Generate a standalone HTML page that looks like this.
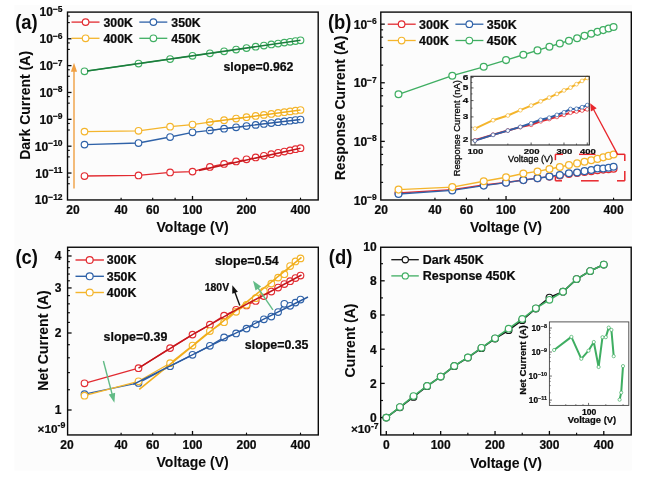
<!DOCTYPE html>
<html><head><meta charset="utf-8"><title>Figure</title>
<style>
html,body{margin:0;padding:0;background:#fff;}
body{width:647px;height:478px;overflow:hidden;font-family:"Liberation Sans",sans-serif;}
svg{display:block;font-family:"Liberation Sans",sans-serif;filter:blur(0.35px);}
text{stroke:#0a0a0a;stroke-width:0.22px;paint-order:stroke;}
text.n{stroke-width:0.3px;}
text.t{stroke-width:0.08px;}
</style></head><body>
<svg width="647" height="478" viewBox="0 0 647 478">
<rect x="0" y="0" width="647" height="478" fill="#ffffff"/>
<rect x="14.5" y="5" width="617.3" height="465.6" fill="#fcfcfc"/>
<text x="62.6" y="204.45" font-size="12" font-weight="bold" text-anchor="end" fill="#0a0a0a">10<tspan font-size="8.5" dy="-4.6">−12</tspan></text>
<line x1="67.5" y1="183.73" x2="69.8" y2="183.73" stroke="#0a0a0a" stroke-width="1.15" />
<line x1="67.5" y1="177.2" x2="69.8" y2="177.2" stroke="#0a0a0a" stroke-width="1.15" />
<line x1="67.5" y1="173.04" x2="71.5" y2="173.04" stroke="#0a0a0a" stroke-width="1.3" />
<text x="62.6" y="177.59" font-size="12" font-weight="bold" text-anchor="end" fill="#0a0a0a">10<tspan font-size="8.5" dy="-4.6">−11</tspan></text>
<line x1="67.5" y1="156.87" x2="69.8" y2="156.87" stroke="#0a0a0a" stroke-width="1.15" />
<line x1="67.5" y1="150.35" x2="69.8" y2="150.35" stroke="#0a0a0a" stroke-width="1.15" />
<line x1="67.5" y1="146.19" x2="71.5" y2="146.19" stroke="#0a0a0a" stroke-width="1.3" />
<text x="62.6" y="150.74" font-size="12" font-weight="bold" text-anchor="end" fill="#0a0a0a">10<tspan font-size="8.5" dy="-4.6">−10</tspan></text>
<line x1="67.5" y1="130.02" x2="69.8" y2="130.02" stroke="#0a0a0a" stroke-width="1.15" />
<line x1="67.5" y1="123.49" x2="69.8" y2="123.49" stroke="#0a0a0a" stroke-width="1.15" />
<line x1="67.5" y1="119.33" x2="71.5" y2="119.33" stroke="#0a0a0a" stroke-width="1.3" />
<text x="62.6" y="123.88" font-size="12" font-weight="bold" text-anchor="end" fill="#0a0a0a">10<tspan font-size="8.5" dy="-4.6">−9</tspan></text>
<line x1="67.5" y1="103.16" x2="69.8" y2="103.16" stroke="#0a0a0a" stroke-width="1.15" />
<line x1="67.5" y1="96.63" x2="69.8" y2="96.63" stroke="#0a0a0a" stroke-width="1.15" />
<line x1="67.5" y1="92.47" x2="71.5" y2="92.47" stroke="#0a0a0a" stroke-width="1.3" />
<text x="62.6" y="97.02" font-size="12" font-weight="bold" text-anchor="end" fill="#0a0a0a">10<tspan font-size="8.5" dy="-4.6">−8</tspan></text>
<line x1="67.5" y1="76.3" x2="69.8" y2="76.3" stroke="#0a0a0a" stroke-width="1.15" />
<line x1="67.5" y1="69.77" x2="69.8" y2="69.77" stroke="#0a0a0a" stroke-width="1.15" />
<line x1="67.5" y1="65.61" x2="71.5" y2="65.61" stroke="#0a0a0a" stroke-width="1.3" />
<text x="62.6" y="70.16" font-size="12" font-weight="bold" text-anchor="end" fill="#0a0a0a">10<tspan font-size="8.5" dy="-4.6">−7</tspan></text>
<line x1="67.5" y1="49.44" x2="69.8" y2="49.44" stroke="#0a0a0a" stroke-width="1.15" />
<line x1="67.5" y1="42.92" x2="69.8" y2="42.92" stroke="#0a0a0a" stroke-width="1.15" />
<line x1="67.5" y1="38.76" x2="71.5" y2="38.76" stroke="#0a0a0a" stroke-width="1.3" />
<text x="62.6" y="43.31" font-size="12" font-weight="bold" text-anchor="end" fill="#0a0a0a">10<tspan font-size="8.5" dy="-4.6">−6</tspan></text>
<line x1="67.5" y1="22.59" x2="69.8" y2="22.59" stroke="#0a0a0a" stroke-width="1.15" />
<line x1="67.5" y1="16.06" x2="69.8" y2="16.06" stroke="#0a0a0a" stroke-width="1.15" />
<text x="62.6" y="16.45" font-size="12" font-weight="bold" text-anchor="end" fill="#0a0a0a">10<tspan font-size="8.5" dy="-4.6">−5</tspan></text>
<line x1="121.11" y1="199.95" x2="121.11" y2="197.65" stroke="#0a0a0a" stroke-width="1.15" />
<line x1="152.7" y1="199.95" x2="152.7" y2="197.65" stroke="#0a0a0a" stroke-width="1.15" />
<line x1="175.11" y1="199.95" x2="175.11" y2="197.65" stroke="#0a0a0a" stroke-width="1.15" />
<line x1="246.5" y1="199.95" x2="246.5" y2="197.65" stroke="#0a0a0a" stroke-width="1.15" />
<line x1="300.51" y1="199.95" x2="300.51" y2="197.65" stroke="#0a0a0a" stroke-width="1.15" />
<line x1="192.5" y1="199.95" x2="192.5" y2="195.95" stroke="#0a0a0a" stroke-width="1.3" />
<text x="121.11" y="214.3" font-size="12" font-weight="bold" text-anchor="middle" fill="#0a0a0a" >40</text>
<text x="152.7" y="214.3" font-size="12" font-weight="bold" text-anchor="middle" fill="#0a0a0a" >60</text>
<text x="192.5" y="214.3" font-size="12" font-weight="bold" text-anchor="middle" fill="#0a0a0a" >100</text>
<text x="246.5" y="214.3" font-size="12" font-weight="bold" text-anchor="middle" fill="#0a0a0a" >200</text>
<text x="300.51" y="214.3" font-size="12" font-weight="bold" text-anchor="middle" fill="#0a0a0a" >400</text>
<text x="73" y="214.3" font-size="12" font-weight="bold" text-anchor="middle" fill="#0a0a0a" >20</text>
<text class="t" x="192.6" y="232.4" font-size="14" font-weight="bold" text-anchor="middle" fill="#0a0a0a" >Voltage (V)</text>
<text class="t" transform="translate(29.6,105.4) rotate(-90)" font-size="14" font-weight="bold" text-anchor="middle" fill="#0a0a0a">Dark Current (A)</text>
<text transform="translate(15.2,28.8) scale(0.95,1)" font-size="19.4" font-weight="bold" fill="#0a0a0a" style="stroke:none">(a)</text>
<line x1="74" y1="188.5" x2="74" y2="70.8" stroke="#f0a043" stroke-width="1.4" />
<polygon points="74,62.8 77.1,71.8 70.9,71.8" fill="#f0a043"/>
<polyline points="84.49,176 138.5,175.4 170.09,172.4 192.5,171.6 209.89,166.9 224.09,163.97 236.1,161.49 246.5,159.34 255.68,157.45 263.89,155.76 271.32,154.22 278.1,152.83 284.33,151.54 290.11,150.35 295.48,149.24 300.51,148.2" fill="none" stroke="#e22b31" stroke-width="1.3" stroke-linejoin="round" />
<circle cx="84.49" cy="176" r="3.3" fill="#fff" stroke="#e22b31" stroke-width="1.15"/>
<circle cx="138.5" cy="175.4" r="3.3" fill="#fff" stroke="#e22b31" stroke-width="1.15"/>
<circle cx="170.09" cy="172.4" r="3.3" fill="#fff" stroke="#e22b31" stroke-width="1.15"/>
<circle cx="192.5" cy="171.6" r="3.3" fill="#fff" stroke="#e22b31" stroke-width="1.15"/>
<circle cx="209.89" cy="166.9" r="3.3" fill="#fff" stroke="#e22b31" stroke-width="1.15"/>
<circle cx="224.09" cy="163.97" r="3.3" fill="#fff" stroke="#e22b31" stroke-width="1.15"/>
<circle cx="236.1" cy="161.49" r="3.3" fill="#fff" stroke="#e22b31" stroke-width="1.15"/>
<circle cx="246.5" cy="159.34" r="3.3" fill="#fff" stroke="#e22b31" stroke-width="1.15"/>
<circle cx="255.68" cy="157.45" r="3.3" fill="#fff" stroke="#e22b31" stroke-width="1.15"/>
<circle cx="263.89" cy="155.76" r="3.3" fill="#fff" stroke="#e22b31" stroke-width="1.15"/>
<circle cx="271.32" cy="154.22" r="3.3" fill="#fff" stroke="#e22b31" stroke-width="1.15"/>
<circle cx="278.1" cy="152.83" r="3.3" fill="#fff" stroke="#e22b31" stroke-width="1.15"/>
<circle cx="284.33" cy="151.54" r="3.3" fill="#fff" stroke="#e22b31" stroke-width="1.15"/>
<circle cx="290.11" cy="150.35" r="3.3" fill="#fff" stroke="#e22b31" stroke-width="1.15"/>
<circle cx="295.48" cy="149.24" r="3.3" fill="#fff" stroke="#e22b31" stroke-width="1.15"/>
<circle cx="300.51" cy="148.2" r="3.3" fill="#fff" stroke="#e22b31" stroke-width="1.15"/>
<polyline points="84.49,144.6 138.5,143 170.09,137 192.5,132.3 209.89,130.4 224.09,128.69 236.1,127.25 246.5,126 255.68,124.89 263.89,123.9 271.32,123.01 278.1,122.2 284.33,121.45 290.11,120.75 295.48,120.1 300.51,119.5" fill="none" stroke="#2f62a8" stroke-width="1.3" stroke-linejoin="round" />
<circle cx="84.49" cy="144.6" r="3.3" fill="#fff" stroke="#2f62a8" stroke-width="1.15"/>
<circle cx="138.5" cy="143" r="3.3" fill="#fff" stroke="#2f62a8" stroke-width="1.15"/>
<circle cx="170.09" cy="137" r="3.3" fill="#fff" stroke="#2f62a8" stroke-width="1.15"/>
<circle cx="192.5" cy="132.3" r="3.3" fill="#fff" stroke="#2f62a8" stroke-width="1.15"/>
<circle cx="209.89" cy="130.4" r="3.3" fill="#fff" stroke="#2f62a8" stroke-width="1.15"/>
<circle cx="224.09" cy="128.69" r="3.3" fill="#fff" stroke="#2f62a8" stroke-width="1.15"/>
<circle cx="236.1" cy="127.25" r="3.3" fill="#fff" stroke="#2f62a8" stroke-width="1.15"/>
<circle cx="246.5" cy="126" r="3.3" fill="#fff" stroke="#2f62a8" stroke-width="1.15"/>
<circle cx="255.68" cy="124.89" r="3.3" fill="#fff" stroke="#2f62a8" stroke-width="1.15"/>
<circle cx="263.89" cy="123.9" r="3.3" fill="#fff" stroke="#2f62a8" stroke-width="1.15"/>
<circle cx="271.32" cy="123.01" r="3.3" fill="#fff" stroke="#2f62a8" stroke-width="1.15"/>
<circle cx="278.1" cy="122.2" r="3.3" fill="#fff" stroke="#2f62a8" stroke-width="1.15"/>
<circle cx="284.33" cy="121.45" r="3.3" fill="#fff" stroke="#2f62a8" stroke-width="1.15"/>
<circle cx="290.11" cy="120.75" r="3.3" fill="#fff" stroke="#2f62a8" stroke-width="1.15"/>
<circle cx="295.48" cy="120.1" r="3.3" fill="#fff" stroke="#2f62a8" stroke-width="1.15"/>
<circle cx="300.51" cy="119.5" r="3.3" fill="#fff" stroke="#2f62a8" stroke-width="1.15"/>
<polyline points="84.49,131.6 138.5,130.8 170.09,126.7 192.5,124.6 209.89,122.1 224.09,120.2 236.1,118.6 246.5,117.21 255.68,115.99 263.89,114.89 271.32,113.9 278.1,112.99 284.33,112.16 290.11,111.39 295.48,110.67 300.51,110" fill="none" stroke="#f4b52c" stroke-width="1.3" stroke-linejoin="round" />
<circle cx="84.49" cy="131.6" r="3.3" fill="#fff" stroke="#f4b52c" stroke-width="1.15"/>
<circle cx="138.5" cy="130.8" r="3.3" fill="#fff" stroke="#f4b52c" stroke-width="1.15"/>
<circle cx="170.09" cy="126.7" r="3.3" fill="#fff" stroke="#f4b52c" stroke-width="1.15"/>
<circle cx="192.5" cy="124.6" r="3.3" fill="#fff" stroke="#f4b52c" stroke-width="1.15"/>
<circle cx="209.89" cy="122.1" r="3.3" fill="#fff" stroke="#f4b52c" stroke-width="1.15"/>
<circle cx="224.09" cy="120.2" r="3.3" fill="#fff" stroke="#f4b52c" stroke-width="1.15"/>
<circle cx="236.1" cy="118.6" r="3.3" fill="#fff" stroke="#f4b52c" stroke-width="1.15"/>
<circle cx="246.5" cy="117.21" r="3.3" fill="#fff" stroke="#f4b52c" stroke-width="1.15"/>
<circle cx="255.68" cy="115.99" r="3.3" fill="#fff" stroke="#f4b52c" stroke-width="1.15"/>
<circle cx="263.89" cy="114.89" r="3.3" fill="#fff" stroke="#f4b52c" stroke-width="1.15"/>
<circle cx="271.32" cy="113.9" r="3.3" fill="#fff" stroke="#f4b52c" stroke-width="1.15"/>
<circle cx="278.1" cy="112.99" r="3.3" fill="#fff" stroke="#f4b52c" stroke-width="1.15"/>
<circle cx="284.33" cy="112.16" r="3.3" fill="#fff" stroke="#f4b52c" stroke-width="1.15"/>
<circle cx="290.11" cy="111.39" r="3.3" fill="#fff" stroke="#f4b52c" stroke-width="1.15"/>
<circle cx="295.48" cy="110.67" r="3.3" fill="#fff" stroke="#f4b52c" stroke-width="1.15"/>
<circle cx="300.51" cy="110" r="3.3" fill="#fff" stroke="#f4b52c" stroke-width="1.15"/>
<polyline points="84.49,71.3 138.5,63.55 170.09,59.02 192.5,55.8 209.89,53.31 224.09,51.27 236.1,49.54 246.5,48.05 255.68,46.73 263.89,45.56 271.32,44.49 278.1,43.52 284.33,42.62 290.11,41.79 295.48,41.02 300.51,40.3" fill="none" stroke="#3fae62" stroke-width="1.3" stroke-linejoin="round" />
<circle cx="84.49" cy="71.3" r="3.3" fill="#fff" stroke="#3fae62" stroke-width="1.15"/>
<circle cx="138.5" cy="63.55" r="3.3" fill="#fff" stroke="#3fae62" stroke-width="1.15"/>
<circle cx="170.09" cy="59.02" r="3.3" fill="#fff" stroke="#3fae62" stroke-width="1.15"/>
<circle cx="192.5" cy="55.8" r="3.3" fill="#fff" stroke="#3fae62" stroke-width="1.15"/>
<circle cx="209.89" cy="53.31" r="3.3" fill="#fff" stroke="#3fae62" stroke-width="1.15"/>
<circle cx="224.09" cy="51.27" r="3.3" fill="#fff" stroke="#3fae62" stroke-width="1.15"/>
<circle cx="236.1" cy="49.54" r="3.3" fill="#fff" stroke="#3fae62" stroke-width="1.15"/>
<circle cx="246.5" cy="48.05" r="3.3" fill="#fff" stroke="#3fae62" stroke-width="1.15"/>
<circle cx="255.68" cy="46.73" r="3.3" fill="#fff" stroke="#3fae62" stroke-width="1.15"/>
<circle cx="263.89" cy="45.56" r="3.3" fill="#fff" stroke="#3fae62" stroke-width="1.15"/>
<circle cx="271.32" cy="44.49" r="3.3" fill="#fff" stroke="#3fae62" stroke-width="1.15"/>
<circle cx="278.1" cy="43.52" r="3.3" fill="#fff" stroke="#3fae62" stroke-width="1.15"/>
<circle cx="284.33" cy="42.62" r="3.3" fill="#fff" stroke="#3fae62" stroke-width="1.15"/>
<circle cx="290.11" cy="41.79" r="3.3" fill="#fff" stroke="#3fae62" stroke-width="1.15"/>
<circle cx="295.48" cy="41.02" r="3.3" fill="#fff" stroke="#3fae62" stroke-width="1.15"/>
<circle cx="300.51" cy="40.3" r="3.3" fill="#fff" stroke="#3fae62" stroke-width="1.15"/>
<line x1="86.99" y1="70.95" x2="300.51" y2="40.3" stroke="#1b7d3c" stroke-width="1.6" />
<line x1="199" y1="170.4" x2="300.51" y2="148.2" stroke="#c4161c" stroke-width="1.6" />
<line x1="205.89" y1="122.6" x2="300.51" y2="110" stroke="#f0ad1a" stroke-width="1.5" />
<line x1="207.89" y1="130.6" x2="300.51" y2="119.5" stroke="#2a5aa0" stroke-width="1.4" />
<text x="223.4" y="70.8" font-size="12.3" font-weight="bold" text-anchor="start" fill="#0a0a0a" >slope=0.962</text>
<line x1="71.5" y1="22.1" x2="99.5" y2="22.1" stroke="#e22b31" stroke-width="1.3" />
<circle cx="85.6" cy="22.1" r="3.3" fill="#fff" stroke="#e22b31" stroke-width="1.15"/>
<text x="103.5" y="26.5" font-size="12.3" font-weight="bold" text-anchor="start" fill="#0a0a0a" >300K</text>
<line x1="139.3" y1="22.1" x2="167.3" y2="22.1" stroke="#2f62a8" stroke-width="1.3" />
<circle cx="153.4" cy="22.1" r="3.3" fill="#fff" stroke="#2f62a8" stroke-width="1.15"/>
<text x="171.3" y="26.5" font-size="12.3" font-weight="bold" text-anchor="start" fill="#0a0a0a" >350K</text>
<line x1="71.5" y1="38.3" x2="99.5" y2="38.3" stroke="#f4b52c" stroke-width="1.3" />
<circle cx="85.6" cy="38.3" r="3.3" fill="#fff" stroke="#f4b52c" stroke-width="1.15"/>
<text x="103.5" y="42.7" font-size="12.3" font-weight="bold" text-anchor="start" fill="#0a0a0a" >400K</text>
<line x1="139.3" y1="38.3" x2="167.3" y2="38.3" stroke="#3fae62" stroke-width="1.3" />
<circle cx="153.4" cy="38.3" r="3.3" fill="#fff" stroke="#3fae62" stroke-width="1.15"/>
<text x="171.3" y="42.7" font-size="12.3" font-weight="bold" text-anchor="start" fill="#0a0a0a" >450K</text>
<rect x="67.5" y="12.1" width="250.7" height="187.85" fill="none" stroke="#0a0a0a" stroke-width="1.4"/>
<line x1="380.8" y1="24.15" x2="384.8" y2="24.15" stroke="#0a0a0a" stroke-width="1.3" />
<text x="376.8" y="28.75" font-size="12" font-weight="bold" text-anchor="end" fill="#0a0a0a">10<tspan font-size="8.5" dy="-4.6">−6</tspan></text>
<line x1="380.8" y1="65.12" x2="383.1" y2="65.12" stroke="#0a0a0a" stroke-width="1.15" />
<line x1="380.8" y1="47.48" x2="383.1" y2="47.48" stroke="#0a0a0a" stroke-width="1.15" />
<line x1="380.8" y1="37.15" x2="383.1" y2="37.15" stroke="#0a0a0a" stroke-width="1.15" />
<line x1="380.8" y1="29.83" x2="383.1" y2="29.83" stroke="#0a0a0a" stroke-width="1.15" />
<line x1="380.8" y1="82.77" x2="384.8" y2="82.77" stroke="#0a0a0a" stroke-width="1.3" />
<text x="376.8" y="87.37" font-size="12" font-weight="bold" text-anchor="end" fill="#0a0a0a">10<tspan font-size="8.5" dy="-4.6">−7</tspan></text>
<line x1="380.8" y1="123.74" x2="383.1" y2="123.74" stroke="#0a0a0a" stroke-width="1.15" />
<line x1="380.8" y1="106.1" x2="383.1" y2="106.1" stroke="#0a0a0a" stroke-width="1.15" />
<line x1="380.8" y1="95.77" x2="383.1" y2="95.77" stroke="#0a0a0a" stroke-width="1.15" />
<line x1="380.8" y1="88.45" x2="383.1" y2="88.45" stroke="#0a0a0a" stroke-width="1.15" />
<line x1="380.8" y1="141.39" x2="384.8" y2="141.39" stroke="#0a0a0a" stroke-width="1.3" />
<text x="376.8" y="145.99" font-size="12" font-weight="bold" text-anchor="end" fill="#0a0a0a">10<tspan font-size="8.5" dy="-4.6">−8</tspan></text>
<line x1="380.8" y1="182.36" x2="383.1" y2="182.36" stroke="#0a0a0a" stroke-width="1.15" />
<line x1="380.8" y1="164.72" x2="383.1" y2="164.72" stroke="#0a0a0a" stroke-width="1.15" />
<line x1="380.8" y1="154.39" x2="383.1" y2="154.39" stroke="#0a0a0a" stroke-width="1.15" />
<line x1="380.8" y1="147.07" x2="383.1" y2="147.07" stroke="#0a0a0a" stroke-width="1.15" />
<text x="376.8" y="204.61" font-size="12" font-weight="bold" text-anchor="end" fill="#0a0a0a">10<tspan font-size="8.5" dy="-4.6">−9</tspan></text>
<line x1="434.96" y1="200" x2="434.96" y2="197.7" stroke="#0a0a0a" stroke-width="1.15" />
<line x1="466.41" y1="200" x2="466.41" y2="197.7" stroke="#0a0a0a" stroke-width="1.15" />
<line x1="488.73" y1="200" x2="488.73" y2="197.7" stroke="#0a0a0a" stroke-width="1.15" />
<line x1="559.8" y1="200" x2="559.8" y2="197.7" stroke="#0a0a0a" stroke-width="1.15" />
<line x1="613.56" y1="200" x2="613.56" y2="197.7" stroke="#0a0a0a" stroke-width="1.15" />
<line x1="506.04" y1="200" x2="506.04" y2="196" stroke="#0a0a0a" stroke-width="1.3" />
<text x="381.2" y="214.3" font-size="12" font-weight="bold" text-anchor="middle" fill="#0a0a0a" >20</text>
<text x="434.96" y="214.3" font-size="12" font-weight="bold" text-anchor="middle" fill="#0a0a0a" >40</text>
<text x="466.41" y="214.3" font-size="12" font-weight="bold" text-anchor="middle" fill="#0a0a0a" >60</text>
<text x="506.04" y="214.3" font-size="12" font-weight="bold" text-anchor="middle" fill="#0a0a0a" >100</text>
<text x="559.8" y="214.3" font-size="12" font-weight="bold" text-anchor="middle" fill="#0a0a0a" >200</text>
<text x="613.56" y="214.3" font-size="12" font-weight="bold" text-anchor="middle" fill="#0a0a0a" >400</text>
<text class="t" x="506" y="232.4" font-size="14" font-weight="bold" text-anchor="middle" fill="#0a0a0a" >Voltage (V)</text>
<text class="t" transform="translate(345.2,108) rotate(-90)" font-size="14" font-weight="bold" text-anchor="middle" fill="#0a0a0a">Response Current (A)</text>
<text transform="translate(327.9,28.8) scale(0.95,1)" font-size="19.4" font-weight="bold" fill="#0a0a0a" style="stroke:none">(b)</text>
<polyline points="398.51,193 452.27,189.6 483.72,185 506.04,182.54 523.34,180.03 537.49,178.14 549.44,176.62 559.8,175.58 568.94,174.01 577.11,172.98 584.5,172.04 591.25,171.14 597.46,170.16 603.21,169.62 608.56,169.17 613.56,168.63" fill="none" stroke="#e22b31" stroke-width="1.4" stroke-linejoin="round" />
<circle cx="398.51" cy="193" r="3.4" fill="#fff" stroke="#e22b31" stroke-width="1.25"/>
<circle cx="452.27" cy="189.6" r="3.4" fill="#fff" stroke="#e22b31" stroke-width="1.25"/>
<circle cx="483.72" cy="185" r="3.4" fill="#fff" stroke="#e22b31" stroke-width="1.25"/>
<circle cx="506.04" cy="182.54" r="3.4" fill="#fff" stroke="#e22b31" stroke-width="1.25"/>
<circle cx="523.34" cy="180.03" r="3.4" fill="#fff" stroke="#e22b31" stroke-width="1.25"/>
<circle cx="537.49" cy="178.14" r="3.4" fill="#fff" stroke="#e22b31" stroke-width="1.25"/>
<circle cx="549.44" cy="176.62" r="3.4" fill="#fff" stroke="#e22b31" stroke-width="1.25"/>
<circle cx="559.8" cy="175.58" r="3.4" fill="#fff" stroke="#e22b31" stroke-width="1.25"/>
<circle cx="568.94" cy="174.01" r="3.4" fill="#fff" stroke="#e22b31" stroke-width="1.25"/>
<circle cx="577.11" cy="172.98" r="3.4" fill="#fff" stroke="#e22b31" stroke-width="1.25"/>
<circle cx="584.5" cy="172.04" r="3.4" fill="#fff" stroke="#e22b31" stroke-width="1.25"/>
<circle cx="591.25" cy="171.14" r="3.4" fill="#fff" stroke="#e22b31" stroke-width="1.25"/>
<circle cx="597.46" cy="170.16" r="3.4" fill="#fff" stroke="#e22b31" stroke-width="1.25"/>
<circle cx="603.21" cy="169.62" r="3.4" fill="#fff" stroke="#e22b31" stroke-width="1.25"/>
<circle cx="608.56" cy="169.17" r="3.4" fill="#fff" stroke="#e22b31" stroke-width="1.25"/>
<circle cx="613.56" cy="168.63" r="3.4" fill="#fff" stroke="#e22b31" stroke-width="1.25"/>
<polyline points="398.51,194 452.27,190.4 483.72,185.6 506.04,182.67 523.34,180.12 537.49,178.19 549.44,176.53 559.8,174.91 568.94,173.34 577.11,172.4 584.5,171.14 591.25,169.98 597.46,168.49 603.21,168.41 608.56,167.69 613.56,166.74" fill="none" stroke="#2f62a8" stroke-width="1.4" stroke-linejoin="round" />
<circle cx="398.51" cy="194" r="3.4" fill="#fff" stroke="#2f62a8" stroke-width="1.25"/>
<circle cx="452.27" cy="190.4" r="3.4" fill="#fff" stroke="#2f62a8" stroke-width="1.25"/>
<circle cx="483.72" cy="185.6" r="3.4" fill="#fff" stroke="#2f62a8" stroke-width="1.25"/>
<circle cx="506.04" cy="182.67" r="3.4" fill="#fff" stroke="#2f62a8" stroke-width="1.25"/>
<circle cx="523.34" cy="180.12" r="3.4" fill="#fff" stroke="#2f62a8" stroke-width="1.25"/>
<circle cx="537.49" cy="178.19" r="3.4" fill="#fff" stroke="#2f62a8" stroke-width="1.25"/>
<circle cx="549.44" cy="176.53" r="3.4" fill="#fff" stroke="#2f62a8" stroke-width="1.25"/>
<circle cx="559.8" cy="174.91" r="3.4" fill="#fff" stroke="#2f62a8" stroke-width="1.25"/>
<circle cx="568.94" cy="173.34" r="3.4" fill="#fff" stroke="#2f62a8" stroke-width="1.25"/>
<circle cx="577.11" cy="172.4" r="3.4" fill="#fff" stroke="#2f62a8" stroke-width="1.25"/>
<circle cx="584.5" cy="171.14" r="3.4" fill="#fff" stroke="#2f62a8" stroke-width="1.25"/>
<circle cx="591.25" cy="169.98" r="3.4" fill="#fff" stroke="#2f62a8" stroke-width="1.25"/>
<circle cx="597.46" cy="168.49" r="3.4" fill="#fff" stroke="#2f62a8" stroke-width="1.25"/>
<circle cx="603.21" cy="168.41" r="3.4" fill="#fff" stroke="#2f62a8" stroke-width="1.25"/>
<circle cx="608.56" cy="167.69" r="3.4" fill="#fff" stroke="#2f62a8" stroke-width="1.25"/>
<circle cx="613.56" cy="166.74" r="3.4" fill="#fff" stroke="#2f62a8" stroke-width="1.25"/>
<polyline points="398.51,189.6 452.27,187.1 483.72,181.2 506.04,177.29 523.34,173.52 537.49,171.41 549.44,169.03 559.8,166.97 568.94,165.04 577.11,163.38 584.5,161.72 591.25,160.15 597.46,158.89 603.21,157.37 608.56,155.89 613.56,154.54" fill="none" stroke="#f4b52c" stroke-width="1.4" stroke-linejoin="round" />
<circle cx="398.51" cy="189.6" r="3.4" fill="#fff" stroke="#f4b52c" stroke-width="1.25"/>
<circle cx="452.27" cy="187.1" r="3.4" fill="#fff" stroke="#f4b52c" stroke-width="1.25"/>
<circle cx="483.72" cy="181.2" r="3.4" fill="#fff" stroke="#f4b52c" stroke-width="1.25"/>
<circle cx="506.04" cy="177.29" r="3.4" fill="#fff" stroke="#f4b52c" stroke-width="1.25"/>
<circle cx="523.34" cy="173.52" r="3.4" fill="#fff" stroke="#f4b52c" stroke-width="1.25"/>
<circle cx="537.49" cy="171.41" r="3.4" fill="#fff" stroke="#f4b52c" stroke-width="1.25"/>
<circle cx="549.44" cy="169.03" r="3.4" fill="#fff" stroke="#f4b52c" stroke-width="1.25"/>
<circle cx="559.8" cy="166.97" r="3.4" fill="#fff" stroke="#f4b52c" stroke-width="1.25"/>
<circle cx="568.94" cy="165.04" r="3.4" fill="#fff" stroke="#f4b52c" stroke-width="1.25"/>
<circle cx="577.11" cy="163.38" r="3.4" fill="#fff" stroke="#f4b52c" stroke-width="1.25"/>
<circle cx="584.5" cy="161.72" r="3.4" fill="#fff" stroke="#f4b52c" stroke-width="1.25"/>
<circle cx="591.25" cy="160.15" r="3.4" fill="#fff" stroke="#f4b52c" stroke-width="1.25"/>
<circle cx="597.46" cy="158.89" r="3.4" fill="#fff" stroke="#f4b52c" stroke-width="1.25"/>
<circle cx="603.21" cy="157.37" r="3.4" fill="#fff" stroke="#f4b52c" stroke-width="1.25"/>
<circle cx="608.56" cy="155.89" r="3.4" fill="#fff" stroke="#f4b52c" stroke-width="1.25"/>
<circle cx="613.56" cy="154.54" r="3.4" fill="#fff" stroke="#f4b52c" stroke-width="1.25"/>
<polyline points="398.51,94.3 452.27,75.7 483.72,66.8 506.04,60.1 523.34,54.76 537.49,50.39 549.44,46.7 559.8,43.5 568.94,40.68 577.11,38.16 584.5,35.87 591.25,33.79 597.46,31.87 603.21,30.1 608.56,28.45 613.56,26.9" fill="none" stroke="#3fae62" stroke-width="1.4" stroke-linejoin="round" />
<circle cx="398.51" cy="94.3" r="3.4" fill="#fff" stroke="#3fae62" stroke-width="1.25"/>
<circle cx="452.27" cy="75.7" r="3.4" fill="#fff" stroke="#3fae62" stroke-width="1.25"/>
<circle cx="483.72" cy="66.8" r="3.4" fill="#fff" stroke="#3fae62" stroke-width="1.25"/>
<circle cx="506.04" cy="60.1" r="3.4" fill="#fff" stroke="#3fae62" stroke-width="1.25"/>
<circle cx="523.34" cy="54.76" r="3.4" fill="#fff" stroke="#3fae62" stroke-width="1.25"/>
<circle cx="537.49" cy="50.39" r="3.4" fill="#fff" stroke="#3fae62" stroke-width="1.25"/>
<circle cx="549.44" cy="46.7" r="3.4" fill="#fff" stroke="#3fae62" stroke-width="1.25"/>
<circle cx="559.8" cy="43.5" r="3.4" fill="#fff" stroke="#3fae62" stroke-width="1.25"/>
<circle cx="568.94" cy="40.68" r="3.4" fill="#fff" stroke="#3fae62" stroke-width="1.25"/>
<circle cx="577.11" cy="38.16" r="3.4" fill="#fff" stroke="#3fae62" stroke-width="1.25"/>
<circle cx="584.5" cy="35.87" r="3.4" fill="#fff" stroke="#3fae62" stroke-width="1.25"/>
<circle cx="591.25" cy="33.79" r="3.4" fill="#fff" stroke="#3fae62" stroke-width="1.25"/>
<circle cx="597.46" cy="31.87" r="3.4" fill="#fff" stroke="#3fae62" stroke-width="1.25"/>
<circle cx="603.21" cy="30.1" r="3.4" fill="#fff" stroke="#3fae62" stroke-width="1.25"/>
<circle cx="608.56" cy="28.45" r="3.4" fill="#fff" stroke="#3fae62" stroke-width="1.25"/>
<circle cx="613.56" cy="26.9" r="3.4" fill="#fff" stroke="#3fae62" stroke-width="1.25"/>
<line x1="387.7" y1="24.2" x2="415.7" y2="24.2" stroke="#e22b31" stroke-width="1.3" />
<circle cx="401.6" cy="24.2" r="3.3" fill="#fff" stroke="#e22b31" stroke-width="1.15"/>
<text x="419.1" y="28.6" font-size="12.5" font-weight="bold" text-anchor="start" fill="#0a0a0a" >300K</text>
<line x1="455.4" y1="24.2" x2="483.4" y2="24.2" stroke="#2f62a8" stroke-width="1.3" />
<circle cx="469.3" cy="24.2" r="3.3" fill="#fff" stroke="#2f62a8" stroke-width="1.15"/>
<text x="486.8" y="28.6" font-size="12.5" font-weight="bold" text-anchor="start" fill="#0a0a0a" >350K</text>
<line x1="387.7" y1="40.5" x2="415.7" y2="40.5" stroke="#f4b52c" stroke-width="1.3" />
<circle cx="401.6" cy="40.5" r="3.3" fill="#fff" stroke="#f4b52c" stroke-width="1.15"/>
<text x="419.1" y="44.9" font-size="12.5" font-weight="bold" text-anchor="start" fill="#0a0a0a" >400K</text>
<line x1="455.4" y1="40.5" x2="483.4" y2="40.5" stroke="#3fae62" stroke-width="1.3" />
<circle cx="469.3" cy="40.5" r="3.3" fill="#fff" stroke="#3fae62" stroke-width="1.15"/>
<text x="486.8" y="44.9" font-size="12.5" font-weight="bold" text-anchor="start" fill="#0a0a0a" >450K</text>
<line x1="555.4" y1="154.3" x2="563" y2="154.3" stroke="#e8262c" stroke-width="1.5" />
<line x1="579" y1="154.3" x2="595.5" y2="154.3" stroke="#e8262c" stroke-width="1.5" />
<line x1="617" y1="154.3" x2="624.8" y2="154.3" stroke="#e8262c" stroke-width="1.5" />
<line x1="555.4" y1="180.8" x2="562" y2="180.8" stroke="#e8262c" stroke-width="1.5" />
<line x1="581" y1="180.8" x2="598.7" y2="180.8" stroke="#e8262c" stroke-width="1.5" />
<line x1="617" y1="180.8" x2="624.8" y2="180.8" stroke="#e8262c" stroke-width="1.5" />
<line x1="555.4" y1="154.3" x2="555.4" y2="160.2" stroke="#e8262c" stroke-width="1.5" />
<line x1="555.4" y1="176.5" x2="555.4" y2="180.8" stroke="#e8262c" stroke-width="1.5" />
<line x1="624.8" y1="154.3" x2="624.8" y2="161" stroke="#e8262c" stroke-width="1.5" />
<line x1="624.8" y1="171" x2="624.8" y2="180.8" stroke="#e8262c" stroke-width="1.5" />
<line x1="617.6" y1="154.4" x2="593.31" y2="109.02" stroke="#e8262c" stroke-width="1.3" />
<polygon points="590.2,103.2 596.7,108.34 590.88,111.46" fill="#e8262c"/>
<rect x="471" y="76.3" width="118.3" height="68.7" fill="#fff" stroke="none"/>
<polyline points="475,140.3 493.07,134.7 507.84,130.5 520.33,127.1 531.14,124.8 540.68,121.3 549.22,119 556.94,116.9 563.98,114.9 570.47,112.7 576.47,111.5 582.06,110.5 587.28,109.3" fill="none" stroke="#e22b31" stroke-width="2.0" stroke-linejoin="round" />
<polyline points="475,140.6 493.07,134.9 507.84,130.6 520.33,126.9 531.14,123.3 540.68,119.8 549.22,117.7 556.94,114.9 563.98,112.3 570.47,109 576.47,108.8 582.06,107.2 587.28,105.1" fill="none" stroke="#2f62a8" stroke-width="2.0" stroke-linejoin="round" />
<polyline points="475,128.6 493.07,120.2 507.84,115.5 520.33,110.2 531.14,105.6 540.68,101.3 549.22,97.6 556.94,93.9 563.98,90.4 570.47,87.6 576.47,84.2 582.06,80.9 587.28,77.9" fill="none" stroke="#f4b52c" stroke-width="2.0" stroke-linejoin="round" />
<circle cx="475" cy="140.3" r="1.9" fill="#fff" stroke="#e22b31" stroke-width="0.7"/>
<circle cx="493.07" cy="134.7" r="1.9" fill="#fff" stroke="#e22b31" stroke-width="0.7"/>
<circle cx="507.84" cy="130.5" r="1.9" fill="#fff" stroke="#e22b31" stroke-width="0.7"/>
<circle cx="520.33" cy="127.1" r="1.9" fill="#fff" stroke="#e22b31" stroke-width="0.7"/>
<circle cx="531.14" cy="124.8" r="1.9" fill="#fff" stroke="#e22b31" stroke-width="0.7"/>
<circle cx="540.68" cy="121.3" r="1.9" fill="#fff" stroke="#e22b31" stroke-width="0.7"/>
<circle cx="549.22" cy="119" r="1.9" fill="#fff" stroke="#e22b31" stroke-width="0.7"/>
<circle cx="556.94" cy="116.9" r="1.9" fill="#fff" stroke="#e22b31" stroke-width="0.7"/>
<circle cx="563.98" cy="114.9" r="1.9" fill="#fff" stroke="#e22b31" stroke-width="0.7"/>
<circle cx="570.47" cy="112.7" r="1.9" fill="#fff" stroke="#e22b31" stroke-width="0.7"/>
<circle cx="576.47" cy="111.5" r="1.9" fill="#fff" stroke="#e22b31" stroke-width="0.7"/>
<circle cx="582.06" cy="110.5" r="1.9" fill="#fff" stroke="#e22b31" stroke-width="0.7"/>
<circle cx="587.28" cy="109.3" r="1.9" fill="#fff" stroke="#e22b31" stroke-width="0.7"/>
<circle cx="475" cy="140.6" r="1.9" fill="#fff" stroke="#2f62a8" stroke-width="0.7"/>
<circle cx="493.07" cy="134.9" r="1.9" fill="#fff" stroke="#2f62a8" stroke-width="0.7"/>
<circle cx="507.84" cy="130.6" r="1.9" fill="#fff" stroke="#2f62a8" stroke-width="0.7"/>
<circle cx="520.33" cy="126.9" r="1.9" fill="#fff" stroke="#2f62a8" stroke-width="0.7"/>
<circle cx="531.14" cy="123.3" r="1.9" fill="#fff" stroke="#2f62a8" stroke-width="0.7"/>
<circle cx="540.68" cy="119.8" r="1.9" fill="#fff" stroke="#2f62a8" stroke-width="0.7"/>
<circle cx="549.22" cy="117.7" r="1.9" fill="#fff" stroke="#2f62a8" stroke-width="0.7"/>
<circle cx="556.94" cy="114.9" r="1.9" fill="#fff" stroke="#2f62a8" stroke-width="0.7"/>
<circle cx="563.98" cy="112.3" r="1.9" fill="#fff" stroke="#2f62a8" stroke-width="0.7"/>
<circle cx="570.47" cy="109" r="1.9" fill="#fff" stroke="#2f62a8" stroke-width="0.7"/>
<circle cx="576.47" cy="108.8" r="1.9" fill="#fff" stroke="#2f62a8" stroke-width="0.7"/>
<circle cx="582.06" cy="107.2" r="1.9" fill="#fff" stroke="#2f62a8" stroke-width="0.7"/>
<circle cx="587.28" cy="105.1" r="1.9" fill="#fff" stroke="#2f62a8" stroke-width="0.7"/>
<circle cx="475" cy="128.6" r="1.9" fill="#fff" stroke="#f4b52c" stroke-width="0.7"/>
<circle cx="493.07" cy="120.2" r="1.9" fill="#fff" stroke="#f4b52c" stroke-width="0.7"/>
<circle cx="507.84" cy="115.5" r="1.9" fill="#fff" stroke="#f4b52c" stroke-width="0.7"/>
<circle cx="520.33" cy="110.2" r="1.9" fill="#fff" stroke="#f4b52c" stroke-width="0.7"/>
<circle cx="531.14" cy="105.6" r="1.9" fill="#fff" stroke="#f4b52c" stroke-width="0.7"/>
<circle cx="540.68" cy="101.3" r="1.9" fill="#fff" stroke="#f4b52c" stroke-width="0.7"/>
<circle cx="549.22" cy="97.6" r="1.9" fill="#fff" stroke="#f4b52c" stroke-width="0.7"/>
<circle cx="556.94" cy="93.9" r="1.9" fill="#fff" stroke="#f4b52c" stroke-width="0.7"/>
<circle cx="563.98" cy="90.4" r="1.9" fill="#fff" stroke="#f4b52c" stroke-width="0.7"/>
<circle cx="570.47" cy="87.6" r="1.9" fill="#fff" stroke="#f4b52c" stroke-width="0.7"/>
<circle cx="576.47" cy="84.2" r="1.9" fill="#fff" stroke="#f4b52c" stroke-width="0.7"/>
<circle cx="582.06" cy="80.9" r="1.9" fill="#fff" stroke="#f4b52c" stroke-width="0.7"/>
<circle cx="587.28" cy="77.9" r="1.9" fill="#fff" stroke="#f4b52c" stroke-width="0.7"/>
<rect x="471" y="76.3" width="118.3" height="68.7" fill="none" stroke="#222" stroke-width="1.1"/>
<line x1="471" y1="139.9" x2="473.5" y2="139.9" stroke="#333" stroke-width="0.8" />
<text transform="translate(468.2,142.2) scale(1.32,1)" font-size="7.6" font-weight="bold" text-anchor="end" fill="#0a0a0a">2</text>
<line x1="471" y1="116.9" x2="473.5" y2="116.9" stroke="#333" stroke-width="0.8" />
<text transform="translate(468.2,119.2) scale(1.32,1)" font-size="7.6" font-weight="bold" text-anchor="end" fill="#0a0a0a">3</text>
<line x1="471" y1="100.59" x2="473.5" y2="100.59" stroke="#333" stroke-width="0.8" />
<text transform="translate(468.2,102.89) scale(1.32,1)" font-size="7.6" font-weight="bold" text-anchor="end" fill="#0a0a0a">4</text>
<line x1="471" y1="87.93" x2="473.5" y2="87.93" stroke="#333" stroke-width="0.8" />
<text transform="translate(468.2,90.23) scale(1.32,1)" font-size="7.6" font-weight="bold" text-anchor="end" fill="#0a0a0a">5</text>
<line x1="471" y1="77.59" x2="473.5" y2="77.59" stroke="#333" stroke-width="0.8" />
<text transform="translate(468.2,79.89) scale(1.32,1)" font-size="7.6" font-weight="bold" text-anchor="end" fill="#0a0a0a">6</text>
<line x1="471" y1="127.24" x2="472.5" y2="127.24" stroke="#333" stroke-width="0.7" />
<line x1="471" y1="108.16" x2="472.5" y2="108.16" stroke="#333" stroke-width="0.7" />
<line x1="471" y1="93.9" x2="472.5" y2="93.9" stroke="#333" stroke-width="0.7" />
<line x1="471" y1="82.52" x2="472.5" y2="82.52" stroke="#333" stroke-width="0.7" />
<line x1="475" y1="145" x2="475" y2="142.5" stroke="#333" stroke-width="0.8" />
<text transform="translate(475.4,153.6) scale(1.2,1)" font-size="7.9" font-weight="bold" text-anchor="middle" fill="#0a0a0a">100</text>
<line x1="531.14" y1="145" x2="531.14" y2="142.5" stroke="#333" stroke-width="0.8" />
<text transform="translate(531.64,153.6) scale(1.2,1)" font-size="7.9" font-weight="bold" text-anchor="middle" fill="#0a0a0a">200</text>
<line x1="563.98" y1="145" x2="563.98" y2="142.5" stroke="#333" stroke-width="0.8" />
<text transform="translate(564.48,153.6) scale(1.2,1)" font-size="7.9" font-weight="bold" text-anchor="middle" fill="#0a0a0a">300</text>
<line x1="587.28" y1="145" x2="587.28" y2="142.5" stroke="#333" stroke-width="0.8" />
<text transform="translate(587.78,153.6) scale(1.2,1)" font-size="7.9" font-weight="bold" text-anchor="middle" fill="#0a0a0a">400</text>
<line x1="507.84" y1="145" x2="507.84" y2="143.5" stroke="#333" stroke-width="0.7" />
<line x1="549.22" y1="145" x2="549.22" y2="143.5" stroke="#333" stroke-width="0.7" />
<line x1="576.47" y1="145" x2="576.47" y2="143.5" stroke="#333" stroke-width="0.7" />
<text class="n" x="530.6" y="161.5" font-size="9.1" font-weight="normal" text-anchor="middle" fill="#0a0a0a" >Voltage (V)</text>
<text class="n" transform="translate(459.8,128.3) rotate(-90)" font-size="9.35" font-weight="normal" text-anchor="middle" fill="#0a0a0a">Response Current (nA)</text>
<rect x="380.8" y="12.1" width="250.5" height="187.9" fill="none" stroke="#0a0a0a" stroke-width="1.4"/>
<line x1="67.6" y1="410" x2="71.6" y2="410" stroke="#0a0a0a" stroke-width="1.3" />
<text x="61.5" y="414.3" font-size="12" font-weight="bold" text-anchor="end" fill="#0a0a0a" >1</text>
<line x1="67.6" y1="333" x2="71.6" y2="333" stroke="#0a0a0a" stroke-width="1.3" />
<text x="61.5" y="337.3" font-size="12" font-weight="bold" text-anchor="end" fill="#0a0a0a" >2</text>
<line x1="67.6" y1="287.95" x2="71.6" y2="287.95" stroke="#0a0a0a" stroke-width="1.3" />
<text x="61.5" y="292.25" font-size="12" font-weight="bold" text-anchor="end" fill="#0a0a0a" >3</text>
<line x1="67.6" y1="255.99" x2="71.6" y2="255.99" stroke="#0a0a0a" stroke-width="1.3" />
<text x="61.5" y="260.29" font-size="12" font-weight="bold" text-anchor="end" fill="#0a0a0a" >4</text>
<line x1="67.6" y1="389.75" x2="69.9" y2="389.75" stroke="#0a0a0a" stroke-width="1.15" />
<line x1="67.6" y1="372.62" x2="69.9" y2="372.62" stroke="#0a0a0a" stroke-width="1.15" />
<line x1="67.6" y1="357.79" x2="69.9" y2="357.79" stroke="#0a0a0a" stroke-width="1.15" />
<line x1="67.6" y1="344.7" x2="69.9" y2="344.7" stroke="#0a0a0a" stroke-width="1.15" />
<line x1="67.6" y1="322.41" x2="69.9" y2="322.41" stroke="#0a0a0a" stroke-width="1.15" />
<line x1="67.6" y1="312.74" x2="69.9" y2="312.74" stroke="#0a0a0a" stroke-width="1.15" />
<line x1="67.6" y1="303.85" x2="69.9" y2="303.85" stroke="#0a0a0a" stroke-width="1.15" />
<line x1="67.6" y1="295.62" x2="69.9" y2="295.62" stroke="#0a0a0a" stroke-width="1.15" />
<line x1="67.6" y1="280.78" x2="69.9" y2="280.78" stroke="#0a0a0a" stroke-width="1.15" />
<line x1="67.6" y1="274.05" x2="69.9" y2="274.05" stroke="#0a0a0a" stroke-width="1.15" />
<line x1="67.6" y1="267.7" x2="69.9" y2="267.7" stroke="#0a0a0a" stroke-width="1.15" />
<line x1="67.6" y1="261.69" x2="69.9" y2="261.69" stroke="#0a0a0a" stroke-width="1.15" />
<line x1="67.6" y1="250.57" x2="69.9" y2="250.57" stroke="#0a0a0a" stroke-width="1.15" />
<line x1="121.11" y1="434.95" x2="121.11" y2="432.65" stroke="#0a0a0a" stroke-width="1.15" />
<line x1="152.7" y1="434.95" x2="152.7" y2="432.65" stroke="#0a0a0a" stroke-width="1.15" />
<line x1="175.11" y1="434.95" x2="175.11" y2="432.65" stroke="#0a0a0a" stroke-width="1.15" />
<line x1="246.5" y1="434.95" x2="246.5" y2="432.65" stroke="#0a0a0a" stroke-width="1.15" />
<line x1="300.51" y1="434.95" x2="300.51" y2="432.65" stroke="#0a0a0a" stroke-width="1.15" />
<line x1="192.5" y1="434.95" x2="192.5" y2="430.95" stroke="#0a0a0a" stroke-width="1.3" />
<text x="67" y="448.9" font-size="12" font-weight="bold" text-anchor="middle" fill="#0a0a0a" >20</text>
<text x="121.11" y="448.9" font-size="12" font-weight="bold" text-anchor="middle" fill="#0a0a0a" >40</text>
<text x="152.7" y="448.9" font-size="12" font-weight="bold" text-anchor="middle" fill="#0a0a0a" >60</text>
<text x="192.5" y="448.9" font-size="12" font-weight="bold" text-anchor="middle" fill="#0a0a0a" >100</text>
<text x="246.5" y="448.9" font-size="12" font-weight="bold" text-anchor="middle" fill="#0a0a0a" >200</text>
<text x="300.51" y="448.9" font-size="12" font-weight="bold" text-anchor="middle" fill="#0a0a0a" >400</text>
<text class="t" x="192.6" y="467.4" font-size="14" font-weight="bold" text-anchor="middle" fill="#0a0a0a" >Voltage (V)</text>
<text class="t" transform="translate(47.8,340.5) rotate(-90)" font-size="14" font-weight="bold" text-anchor="middle" fill="#0a0a0a">Net Current (A)</text>
<text transform="translate(15.4,264.2) scale(0.95,1)" font-size="19.4" font-weight="bold" fill="#0a0a0a" style="stroke:none">(c)</text>
<text x="37.5" y="432.6" font-size="11.8" font-weight="bold" fill="#0a0a0a">×10<tspan font-size="8.8" dy="-4.6">-9</tspan></text>
<polyline points="84.49,383.3 138.5,368.2 170.09,348.1 192.5,334.6 209.89,324.7 224.09,315.6 236.1,309.8 246.5,305.4 255.68,300.9 263.89,296 271.32,291.5 278.1,287.5 284.33,284 290.11,281.2 295.48,278 300.51,275.5" fill="none" stroke="#e22b31" stroke-width="1.3" stroke-linejoin="round" />
<circle cx="84.49" cy="383.3" r="3.3" fill="#fff" stroke="#e22b31" stroke-width="1.15"/>
<circle cx="138.5" cy="368.2" r="3.3" fill="#fff" stroke="#e22b31" stroke-width="1.15"/>
<circle cx="170.09" cy="348.1" r="3.3" fill="#fff" stroke="#e22b31" stroke-width="1.15"/>
<circle cx="192.5" cy="334.6" r="3.3" fill="#fff" stroke="#e22b31" stroke-width="1.15"/>
<circle cx="209.89" cy="324.7" r="3.3" fill="#fff" stroke="#e22b31" stroke-width="1.15"/>
<circle cx="224.09" cy="315.6" r="3.3" fill="#fff" stroke="#e22b31" stroke-width="1.15"/>
<circle cx="236.1" cy="309.8" r="3.3" fill="#fff" stroke="#e22b31" stroke-width="1.15"/>
<circle cx="246.5" cy="305.4" r="3.3" fill="#fff" stroke="#e22b31" stroke-width="1.15"/>
<circle cx="255.68" cy="300.9" r="3.3" fill="#fff" stroke="#e22b31" stroke-width="1.15"/>
<circle cx="263.89" cy="296" r="3.3" fill="#fff" stroke="#e22b31" stroke-width="1.15"/>
<circle cx="271.32" cy="291.5" r="3.3" fill="#fff" stroke="#e22b31" stroke-width="1.15"/>
<circle cx="278.1" cy="287.5" r="3.3" fill="#fff" stroke="#e22b31" stroke-width="1.15"/>
<circle cx="284.33" cy="284" r="3.3" fill="#fff" stroke="#e22b31" stroke-width="1.15"/>
<circle cx="290.11" cy="281.2" r="3.3" fill="#fff" stroke="#e22b31" stroke-width="1.15"/>
<circle cx="295.48" cy="278" r="3.3" fill="#fff" stroke="#e22b31" stroke-width="1.15"/>
<circle cx="300.51" cy="275.5" r="3.3" fill="#fff" stroke="#e22b31" stroke-width="1.15"/>
<polyline points="84.49,394.1 138.5,382.9 170.09,366.2 192.5,354.8 209.89,345.8 224.09,337.4 236.1,333.4 246.5,328.6 255.68,324.3 263.89,319.3 271.32,316.5 278.1,312 284.33,303.8 290.11,305.8 295.48,302.6 300.51,299.5" fill="none" stroke="#2f62a8" stroke-width="1.3" stroke-linejoin="round" />
<circle cx="84.49" cy="394.1" r="3.3" fill="#fff" stroke="#2f62a8" stroke-width="1.15"/>
<circle cx="138.5" cy="382.9" r="3.3" fill="#fff" stroke="#2f62a8" stroke-width="1.15"/>
<circle cx="170.09" cy="366.2" r="3.3" fill="#fff" stroke="#2f62a8" stroke-width="1.15"/>
<circle cx="192.5" cy="354.8" r="3.3" fill="#fff" stroke="#2f62a8" stroke-width="1.15"/>
<circle cx="209.89" cy="345.8" r="3.3" fill="#fff" stroke="#2f62a8" stroke-width="1.15"/>
<circle cx="224.09" cy="337.4" r="3.3" fill="#fff" stroke="#2f62a8" stroke-width="1.15"/>
<circle cx="236.1" cy="333.4" r="3.3" fill="#fff" stroke="#2f62a8" stroke-width="1.15"/>
<circle cx="246.5" cy="328.6" r="3.3" fill="#fff" stroke="#2f62a8" stroke-width="1.15"/>
<circle cx="255.68" cy="324.3" r="3.3" fill="#fff" stroke="#2f62a8" stroke-width="1.15"/>
<circle cx="263.89" cy="319.3" r="3.3" fill="#fff" stroke="#2f62a8" stroke-width="1.15"/>
<circle cx="271.32" cy="316.5" r="3.3" fill="#fff" stroke="#2f62a8" stroke-width="1.15"/>
<circle cx="278.1" cy="312" r="3.3" fill="#fff" stroke="#2f62a8" stroke-width="1.15"/>
<circle cx="284.33" cy="303.8" r="3.3" fill="#fff" stroke="#2f62a8" stroke-width="1.15"/>
<circle cx="290.11" cy="305.8" r="3.3" fill="#fff" stroke="#2f62a8" stroke-width="1.15"/>
<circle cx="295.48" cy="302.6" r="3.3" fill="#fff" stroke="#2f62a8" stroke-width="1.15"/>
<circle cx="300.51" cy="299.5" r="3.3" fill="#fff" stroke="#2f62a8" stroke-width="1.15"/>
<polyline points="84.49,395.7 138.5,381.3 170.09,363.2 192.5,345.5 209.89,331 224.09,322.2 236.1,311.8 246.5,304.8 255.68,298.2 263.89,291 271.32,283.6 278.1,277.6 284.33,274.2 290.11,266 295.48,261.4 300.51,258.4" fill="none" stroke="#f4b52c" stroke-width="1.3" stroke-linejoin="round" />
<circle cx="84.49" cy="395.7" r="3.3" fill="#fff" stroke="#f4b52c" stroke-width="1.15"/>
<circle cx="138.5" cy="381.3" r="3.3" fill="#fff" stroke="#f4b52c" stroke-width="1.15"/>
<circle cx="170.09" cy="363.2" r="3.3" fill="#fff" stroke="#f4b52c" stroke-width="1.15"/>
<circle cx="192.5" cy="345.5" r="3.3" fill="#fff" stroke="#f4b52c" stroke-width="1.15"/>
<circle cx="209.89" cy="331" r="3.3" fill="#fff" stroke="#f4b52c" stroke-width="1.15"/>
<circle cx="224.09" cy="322.2" r="3.3" fill="#fff" stroke="#f4b52c" stroke-width="1.15"/>
<circle cx="236.1" cy="311.8" r="3.3" fill="#fff" stroke="#f4b52c" stroke-width="1.15"/>
<circle cx="246.5" cy="304.8" r="3.3" fill="#fff" stroke="#f4b52c" stroke-width="1.15"/>
<circle cx="255.68" cy="298.2" r="3.3" fill="#fff" stroke="#f4b52c" stroke-width="1.15"/>
<circle cx="263.89" cy="291" r="3.3" fill="#fff" stroke="#f4b52c" stroke-width="1.15"/>
<circle cx="271.32" cy="283.6" r="3.3" fill="#fff" stroke="#f4b52c" stroke-width="1.15"/>
<circle cx="278.1" cy="277.6" r="3.3" fill="#fff" stroke="#f4b52c" stroke-width="1.15"/>
<circle cx="284.33" cy="274.2" r="3.3" fill="#fff" stroke="#f4b52c" stroke-width="1.15"/>
<circle cx="290.11" cy="266" r="3.3" fill="#fff" stroke="#f4b52c" stroke-width="1.15"/>
<circle cx="295.48" cy="261.4" r="3.3" fill="#fff" stroke="#f4b52c" stroke-width="1.15"/>
<circle cx="300.51" cy="258.4" r="3.3" fill="#fff" stroke="#f4b52c" stroke-width="1.15"/>
<line x1="139.3" y1="389.3" x2="301.51" y2="257.4" stroke="#f0ad1a" stroke-width="1.6" />
<line x1="133.3" y1="384.3" x2="308" y2="297" stroke="#2a5aa0" stroke-width="1.5" />
<polyline points="138.5,368.2 192.5,334.6 236.1,309.9 301.51,275" fill="none" stroke="#c4161c" stroke-width="1.5" stroke-linejoin="round" />
<text x="215" y="264.5" font-size="12.4" font-weight="bold" text-anchor="start" fill="#0a0a0a" >slope=0.54</text>
<text x="103.6" y="340.5" font-size="12.4" font-weight="bold" text-anchor="start" fill="#0a0a0a" >slope=0.39</text>
<text x="244.8" y="348.8" font-size="12.4" font-weight="bold" text-anchor="start" fill="#0a0a0a" >slope=0.35</text>
<text x="204.8" y="291.3" font-size="10.4" font-weight="bold" text-anchor="start" fill="#0a0a0a" >180V</text>
<line x1="239.8" y1="305.5" x2="234.73" y2="291.77" stroke="#111" stroke-width="1.4" />
<polygon points="232.3,285.2 237.89,291.66 232.26,293.74" fill="#111"/>
<line x1="272.9" y1="309.8" x2="257.8" y2="287.72" stroke="#62bb86" stroke-width="1.4" />
<polygon points="253,280.7 261.17,286.62 255.56,290.46" fill="#62bb86"/>
<line x1="103.4" y1="361" x2="112.24" y2="394.58" stroke="#62bb86" stroke-width="1.4" />
<polygon points="114.4,402.8 108.79,394.45 115.17,392.77" fill="#62bb86"/>
<line x1="75.5" y1="260" x2="103.9" y2="260" stroke="#e22b31" stroke-width="1.4" />
<circle cx="89.7" cy="260" r="3.45" fill="#fff" stroke="#e22b31" stroke-width="1.2"/>
<text x="106.8" y="264.4" font-size="12.4" font-weight="bold" text-anchor="start" fill="#0a0a0a" >300K</text>
<line x1="75.5" y1="276.3" x2="103.9" y2="276.3" stroke="#2f62a8" stroke-width="1.4" />
<circle cx="89.7" cy="276.3" r="3.45" fill="#fff" stroke="#2f62a8" stroke-width="1.2"/>
<text x="106.8" y="280.7" font-size="12.4" font-weight="bold" text-anchor="start" fill="#0a0a0a" >350K</text>
<line x1="75.5" y1="292.5" x2="103.9" y2="292.5" stroke="#f4b52c" stroke-width="1.4" />
<circle cx="89.7" cy="292.5" r="3.45" fill="#fff" stroke="#f4b52c" stroke-width="1.2"/>
<text x="106.8" y="296.9" font-size="12.4" font-weight="bold" text-anchor="start" fill="#0a0a0a" >400K</text>
<rect x="67.6" y="247.25" width="250.7" height="187.7" fill="none" stroke="#0a0a0a" stroke-width="1.4"/>
<line x1="380.7" y1="417.6" x2="384.7" y2="417.6" stroke="#0a0a0a" stroke-width="1.3" />
<text x="376.6" y="421.9" font-size="12" font-weight="bold" text-anchor="end" fill="#0a0a0a" >0</text>
<line x1="380.7" y1="383.4" x2="384.7" y2="383.4" stroke="#0a0a0a" stroke-width="1.3" />
<text x="376.6" y="387.7" font-size="12" font-weight="bold" text-anchor="end" fill="#0a0a0a" >2</text>
<line x1="380.7" y1="349.2" x2="384.7" y2="349.2" stroke="#0a0a0a" stroke-width="1.3" />
<text x="376.6" y="353.5" font-size="12" font-weight="bold" text-anchor="end" fill="#0a0a0a" >4</text>
<line x1="380.7" y1="315" x2="384.7" y2="315" stroke="#0a0a0a" stroke-width="1.3" />
<text x="376.6" y="319.3" font-size="12" font-weight="bold" text-anchor="end" fill="#0a0a0a" >6</text>
<line x1="380.7" y1="280.8" x2="384.7" y2="280.8" stroke="#0a0a0a" stroke-width="1.3" />
<text x="376.6" y="285.1" font-size="12" font-weight="bold" text-anchor="end" fill="#0a0a0a" >8</text>
<text x="376.6" y="250.9" font-size="12" font-weight="bold" text-anchor="end" fill="#0a0a0a" >10</text>
<line x1="380.7" y1="400.5" x2="383" y2="400.5" stroke="#0a0a0a" stroke-width="1.15" />
<line x1="380.7" y1="366.3" x2="383" y2="366.3" stroke="#0a0a0a" stroke-width="1.15" />
<line x1="380.7" y1="332.1" x2="383" y2="332.1" stroke="#0a0a0a" stroke-width="1.15" />
<line x1="380.7" y1="297.9" x2="383" y2="297.9" stroke="#0a0a0a" stroke-width="1.15" />
<line x1="380.7" y1="263.7" x2="383" y2="263.7" stroke="#0a0a0a" stroke-width="1.15" />
<line x1="386.3" y1="434.95" x2="386.3" y2="430.95" stroke="#0a0a0a" stroke-width="1.3" />
<text x="386.3" y="448.9" font-size="12" font-weight="bold" text-anchor="middle" fill="#0a0a0a" >0</text>
<line x1="440.67" y1="434.95" x2="440.67" y2="430.95" stroke="#0a0a0a" stroke-width="1.3" />
<text x="440.67" y="448.9" font-size="12" font-weight="bold" text-anchor="middle" fill="#0a0a0a" >100</text>
<line x1="495.04" y1="434.95" x2="495.04" y2="430.95" stroke="#0a0a0a" stroke-width="1.3" />
<text x="495.04" y="448.9" font-size="12" font-weight="bold" text-anchor="middle" fill="#0a0a0a" >200</text>
<line x1="549.41" y1="434.95" x2="549.41" y2="430.95" stroke="#0a0a0a" stroke-width="1.3" />
<text x="549.41" y="448.9" font-size="12" font-weight="bold" text-anchor="middle" fill="#0a0a0a" >300</text>
<line x1="603.78" y1="434.95" x2="603.78" y2="430.95" stroke="#0a0a0a" stroke-width="1.3" />
<text x="603.78" y="448.9" font-size="12" font-weight="bold" text-anchor="middle" fill="#0a0a0a" >400</text>
<line x1="413.49" y1="434.95" x2="413.49" y2="432.65" stroke="#0a0a0a" stroke-width="1.15" />
<line x1="467.86" y1="434.95" x2="467.86" y2="432.65" stroke="#0a0a0a" stroke-width="1.15" />
<line x1="522.23" y1="434.95" x2="522.23" y2="432.65" stroke="#0a0a0a" stroke-width="1.15" />
<line x1="576.6" y1="434.95" x2="576.6" y2="432.65" stroke="#0a0a0a" stroke-width="1.15" />
<text class="t" x="506" y="467.6" font-size="14" font-weight="bold" text-anchor="middle" fill="#0a0a0a" >Voltage (V)</text>
<text class="t" transform="translate(355.3,340.5) rotate(-90)" font-size="14" font-weight="bold" text-anchor="middle" fill="#0a0a0a">Current (A)</text>
<text transform="translate(328.8,264.2) scale(0.95,1)" font-size="19.4" font-weight="bold" fill="#0a0a0a" style="stroke:none">(d)</text>
<text x="350.9" y="433.4" font-size="11.8" font-weight="bold" fill="#0a0a0a">×10<tspan font-size="8.8" dy="-4.6">-7</tspan></text>
<polyline points="386.3,417.6 399.89,407.34 413.49,396.91 427.08,386.14 440.67,376.56 454.26,366.13 467.86,357.58 481.45,348.17 495.04,338.6 508.63,330.22 522.23,320.13 535.82,308.5 549.41,297.56 563,291.74 576.6,279.09 590.19,271.05 603.78,264.56" fill="none" stroke="#111" stroke-width="1.6" stroke-linejoin="round" />
<circle cx="386.3" cy="417.6" r="3.3" fill="#fff" stroke="#111" stroke-width="1.15"/>
<circle cx="399.89" cy="407.34" r="3.3" fill="#fff" stroke="#111" stroke-width="1.15"/>
<circle cx="413.49" cy="396.91" r="3.3" fill="#fff" stroke="#111" stroke-width="1.15"/>
<circle cx="427.08" cy="386.14" r="3.3" fill="#fff" stroke="#111" stroke-width="1.15"/>
<circle cx="440.67" cy="376.56" r="3.3" fill="#fff" stroke="#111" stroke-width="1.15"/>
<circle cx="454.26" cy="366.13" r="3.3" fill="#fff" stroke="#111" stroke-width="1.15"/>
<circle cx="467.86" cy="357.58" r="3.3" fill="#fff" stroke="#111" stroke-width="1.15"/>
<circle cx="481.45" cy="348.17" r="3.3" fill="#fff" stroke="#111" stroke-width="1.15"/>
<circle cx="495.04" cy="338.6" r="3.3" fill="#fff" stroke="#111" stroke-width="1.15"/>
<circle cx="508.63" cy="330.22" r="3.3" fill="#fff" stroke="#111" stroke-width="1.15"/>
<circle cx="522.23" cy="320.13" r="3.3" fill="#fff" stroke="#111" stroke-width="1.15"/>
<circle cx="535.82" cy="308.5" r="3.3" fill="#fff" stroke="#111" stroke-width="1.15"/>
<circle cx="549.41" cy="297.56" r="3.3" fill="#fff" stroke="#111" stroke-width="1.15"/>
<circle cx="563" cy="291.74" r="3.3" fill="#fff" stroke="#111" stroke-width="1.15"/>
<circle cx="576.6" cy="279.09" r="3.3" fill="#fff" stroke="#111" stroke-width="1.15"/>
<circle cx="590.19" cy="271.05" r="3.3" fill="#fff" stroke="#111" stroke-width="1.15"/>
<circle cx="603.78" cy="264.56" r="3.3" fill="#fff" stroke="#111" stroke-width="1.15"/>
<polyline points="386.3,417.6 399.89,407.08 413.49,396.05 427.08,385.97 440.67,376.56 454.26,365.96 467.86,357.41 481.45,347.83 495.04,338.26 508.63,328.68 522.23,318.93 535.82,308.33 549.41,299.78 563,291.74 576.6,279.09 590.19,271.05 603.78,264.56" fill="none" stroke="#3fae62" stroke-width="1.6" stroke-linejoin="round" />
<circle cx="386.3" cy="417.6" r="3.3" fill="#fff" stroke="#3fae62" stroke-width="1.15"/>
<circle cx="399.89" cy="407.08" r="3.3" fill="#fff" stroke="#3fae62" stroke-width="1.15"/>
<circle cx="413.49" cy="396.05" r="3.3" fill="#fff" stroke="#3fae62" stroke-width="1.15"/>
<circle cx="427.08" cy="385.97" r="3.3" fill="#fff" stroke="#3fae62" stroke-width="1.15"/>
<circle cx="440.67" cy="376.56" r="3.3" fill="#fff" stroke="#3fae62" stroke-width="1.15"/>
<circle cx="454.26" cy="365.96" r="3.3" fill="#fff" stroke="#3fae62" stroke-width="1.15"/>
<circle cx="467.86" cy="357.41" r="3.3" fill="#fff" stroke="#3fae62" stroke-width="1.15"/>
<circle cx="481.45" cy="347.83" r="3.3" fill="#fff" stroke="#3fae62" stroke-width="1.15"/>
<circle cx="495.04" cy="338.26" r="3.3" fill="#fff" stroke="#3fae62" stroke-width="1.15"/>
<circle cx="508.63" cy="328.68" r="3.3" fill="#fff" stroke="#3fae62" stroke-width="1.15"/>
<circle cx="522.23" cy="318.93" r="3.3" fill="#fff" stroke="#3fae62" stroke-width="1.15"/>
<circle cx="535.82" cy="308.33" r="3.3" fill="#fff" stroke="#3fae62" stroke-width="1.15"/>
<circle cx="549.41" cy="299.78" r="3.3" fill="#fff" stroke="#3fae62" stroke-width="1.15"/>
<circle cx="563" cy="291.74" r="3.3" fill="#fff" stroke="#3fae62" stroke-width="1.15"/>
<circle cx="576.6" cy="279.09" r="3.3" fill="#fff" stroke="#3fae62" stroke-width="1.15"/>
<circle cx="590.19" cy="271.05" r="3.3" fill="#fff" stroke="#3fae62" stroke-width="1.15"/>
<circle cx="603.78" cy="264.56" r="3.3" fill="#fff" stroke="#3fae62" stroke-width="1.15"/>
<line x1="391.3" y1="259.7" x2="418.8" y2="259.7" stroke="#111" stroke-width="1.3" />
<circle cx="405.3" cy="259.7" r="3.1" fill="#fff" stroke="#111" stroke-width="1.15"/>
<text x="422.8" y="264.1" font-size="12.45" font-weight="bold" text-anchor="start" fill="#0a0a0a" >Dark 450K</text>
<line x1="391.3" y1="275.9" x2="418.8" y2="275.9" stroke="#3fae62" stroke-width="1.3" />
<circle cx="405.3" cy="275.9" r="3.1" fill="#fff" stroke="#3fae62" stroke-width="1.15"/>
<text x="422.8" y="280.3" font-size="12.45" font-weight="bold" text-anchor="start" fill="#0a0a0a" >Response 450K</text>
<rect x="549.4" y="321.9" width="79.4" height="83.5" fill="#fff" stroke="none"/>
<polyline points="554.1,350 571.4,336.9 581.3,358.8 588.5,350.7 593.8,342 598.6,367 602.5,337.2 605.8,337.2 608.7,327.6 611.4,329.9 613.7,356.2" fill="none" stroke="#3fae62" stroke-width="2.0" stroke-linejoin="round" />
<polyline points="619.6,399.7 621.2,392.6 623,366.1" fill="none" stroke="#3fae62" stroke-width="2.0" stroke-linejoin="round" />
<circle cx="554.1" cy="350" r="1.6" fill="#fff" stroke="#3fae62" stroke-width="0.7"/>
<circle cx="571.4" cy="336.9" r="1.6" fill="#fff" stroke="#3fae62" stroke-width="0.7"/>
<circle cx="581.3" cy="358.8" r="1.6" fill="#fff" stroke="#3fae62" stroke-width="0.7"/>
<circle cx="588.5" cy="350.7" r="1.6" fill="#fff" stroke="#3fae62" stroke-width="0.7"/>
<circle cx="593.8" cy="342" r="1.6" fill="#fff" stroke="#3fae62" stroke-width="0.7"/>
<circle cx="598.6" cy="367" r="1.6" fill="#fff" stroke="#3fae62" stroke-width="0.7"/>
<circle cx="602.5" cy="337.2" r="1.6" fill="#fff" stroke="#3fae62" stroke-width="0.7"/>
<circle cx="605.8" cy="337.2" r="1.6" fill="#fff" stroke="#3fae62" stroke-width="0.7"/>
<circle cx="608.7" cy="327.6" r="1.6" fill="#fff" stroke="#3fae62" stroke-width="0.7"/>
<circle cx="611.4" cy="329.9" r="1.6" fill="#fff" stroke="#3fae62" stroke-width="0.7"/>
<circle cx="613.7" cy="356.2" r="1.6" fill="#fff" stroke="#3fae62" stroke-width="0.7"/>
<circle cx="619.6" cy="399.7" r="1.6" fill="#fff" stroke="#3fae62" stroke-width="0.7"/>
<circle cx="621.2" cy="392.6" r="1.6" fill="#fff" stroke="#3fae62" stroke-width="0.7"/>
<circle cx="623" cy="366.1" r="1.6" fill="#fff" stroke="#3fae62" stroke-width="0.7"/>
<rect x="549.4" y="321.9" width="79.4" height="83.5" fill="none" stroke="#444" stroke-width="0.9"/>
<line x1="549.4" y1="328" x2="551.9" y2="328" stroke="#444" stroke-width="0.8" />
<text x="546.9" y="331" font-size="8.3" font-weight="bold" text-anchor="end" fill="#0a0a0a">10<tspan font-size="5.4" dy="-3.4">−8</tspan></text>
<line x1="549.4" y1="344.8" x2="550.8" y2="344.8" stroke="#444" stroke-width="0.6" />
<line x1="549.4" y1="337.56" x2="550.8" y2="337.56" stroke="#444" stroke-width="0.6" />
<line x1="549.4" y1="333.33" x2="550.8" y2="333.33" stroke="#444" stroke-width="0.6" />
<line x1="549.4" y1="330.33" x2="550.8" y2="330.33" stroke="#444" stroke-width="0.6" />
<line x1="549.4" y1="352.03" x2="551.9" y2="352.03" stroke="#444" stroke-width="0.8" />
<text x="546.9" y="355.03" font-size="8.3" font-weight="bold" text-anchor="end" fill="#0a0a0a">10<tspan font-size="5.4" dy="-3.4">−9</tspan></text>
<line x1="549.4" y1="368.83" x2="550.8" y2="368.83" stroke="#444" stroke-width="0.6" />
<line x1="549.4" y1="361.59" x2="550.8" y2="361.59" stroke="#444" stroke-width="0.6" />
<line x1="549.4" y1="357.36" x2="550.8" y2="357.36" stroke="#444" stroke-width="0.6" />
<line x1="549.4" y1="354.36" x2="550.8" y2="354.36" stroke="#444" stroke-width="0.6" />
<line x1="549.4" y1="376.06" x2="551.9" y2="376.06" stroke="#444" stroke-width="0.8" />
<text x="546.9" y="379.06" font-size="8.3" font-weight="bold" text-anchor="end" fill="#0a0a0a">10<tspan font-size="5.4" dy="-3.4">−10</tspan></text>
<line x1="549.4" y1="392.86" x2="550.8" y2="392.86" stroke="#444" stroke-width="0.6" />
<line x1="549.4" y1="385.62" x2="550.8" y2="385.62" stroke="#444" stroke-width="0.6" />
<line x1="549.4" y1="381.39" x2="550.8" y2="381.39" stroke="#444" stroke-width="0.6" />
<line x1="549.4" y1="378.39" x2="550.8" y2="378.39" stroke="#444" stroke-width="0.6" />
<line x1="549.4" y1="400.09" x2="551.9" y2="400.09" stroke="#444" stroke-width="0.8" />
<text x="546.9" y="403.09" font-size="8.3" font-weight="bold" text-anchor="end" fill="#0a0a0a">10<tspan font-size="5.4" dy="-3.4">−11</tspan></text>
<line x1="549.4" y1="402.42" x2="550.8" y2="402.42" stroke="#444" stroke-width="0.6" />
<line x1="588.55" y1="405.4" x2="588.55" y2="402.9" stroke="#444" stroke-width="0.8" />
<line x1="565.75" y1="405.4" x2="565.75" y2="404" stroke="#444" stroke-width="0.6" />
<line x1="575.84" y1="405.4" x2="575.84" y2="404" stroke="#444" stroke-width="0.6" />
<line x1="583" y1="405.4" x2="583" y2="404" stroke="#444" stroke-width="0.6" />
<line x1="605.8" y1="405.4" x2="605.8" y2="404" stroke="#444" stroke-width="0.6" />
<line x1="623.05" y1="405.4" x2="623.05" y2="404" stroke="#444" stroke-width="0.6" />
<text x="589.2" y="415" font-size="8.6" font-weight="bold" text-anchor="middle" fill="#0a0a0a" >100</text>
<text x="592" y="422.5" font-size="9.4" font-weight="bold" text-anchor="middle" fill="#0a0a0a" >Voltage (V)</text>
<text transform="translate(525.7,360.1) rotate(-90) scale(1.13,1)" font-size="8.6" font-weight="bold" text-anchor="middle" fill="#0a0a0a">Net Current (A)</text>
<rect x="380.7" y="247.25" width="250.5" height="187.7" fill="none" stroke="#0a0a0a" stroke-width="1.4"/>
</svg>
</body></html>
